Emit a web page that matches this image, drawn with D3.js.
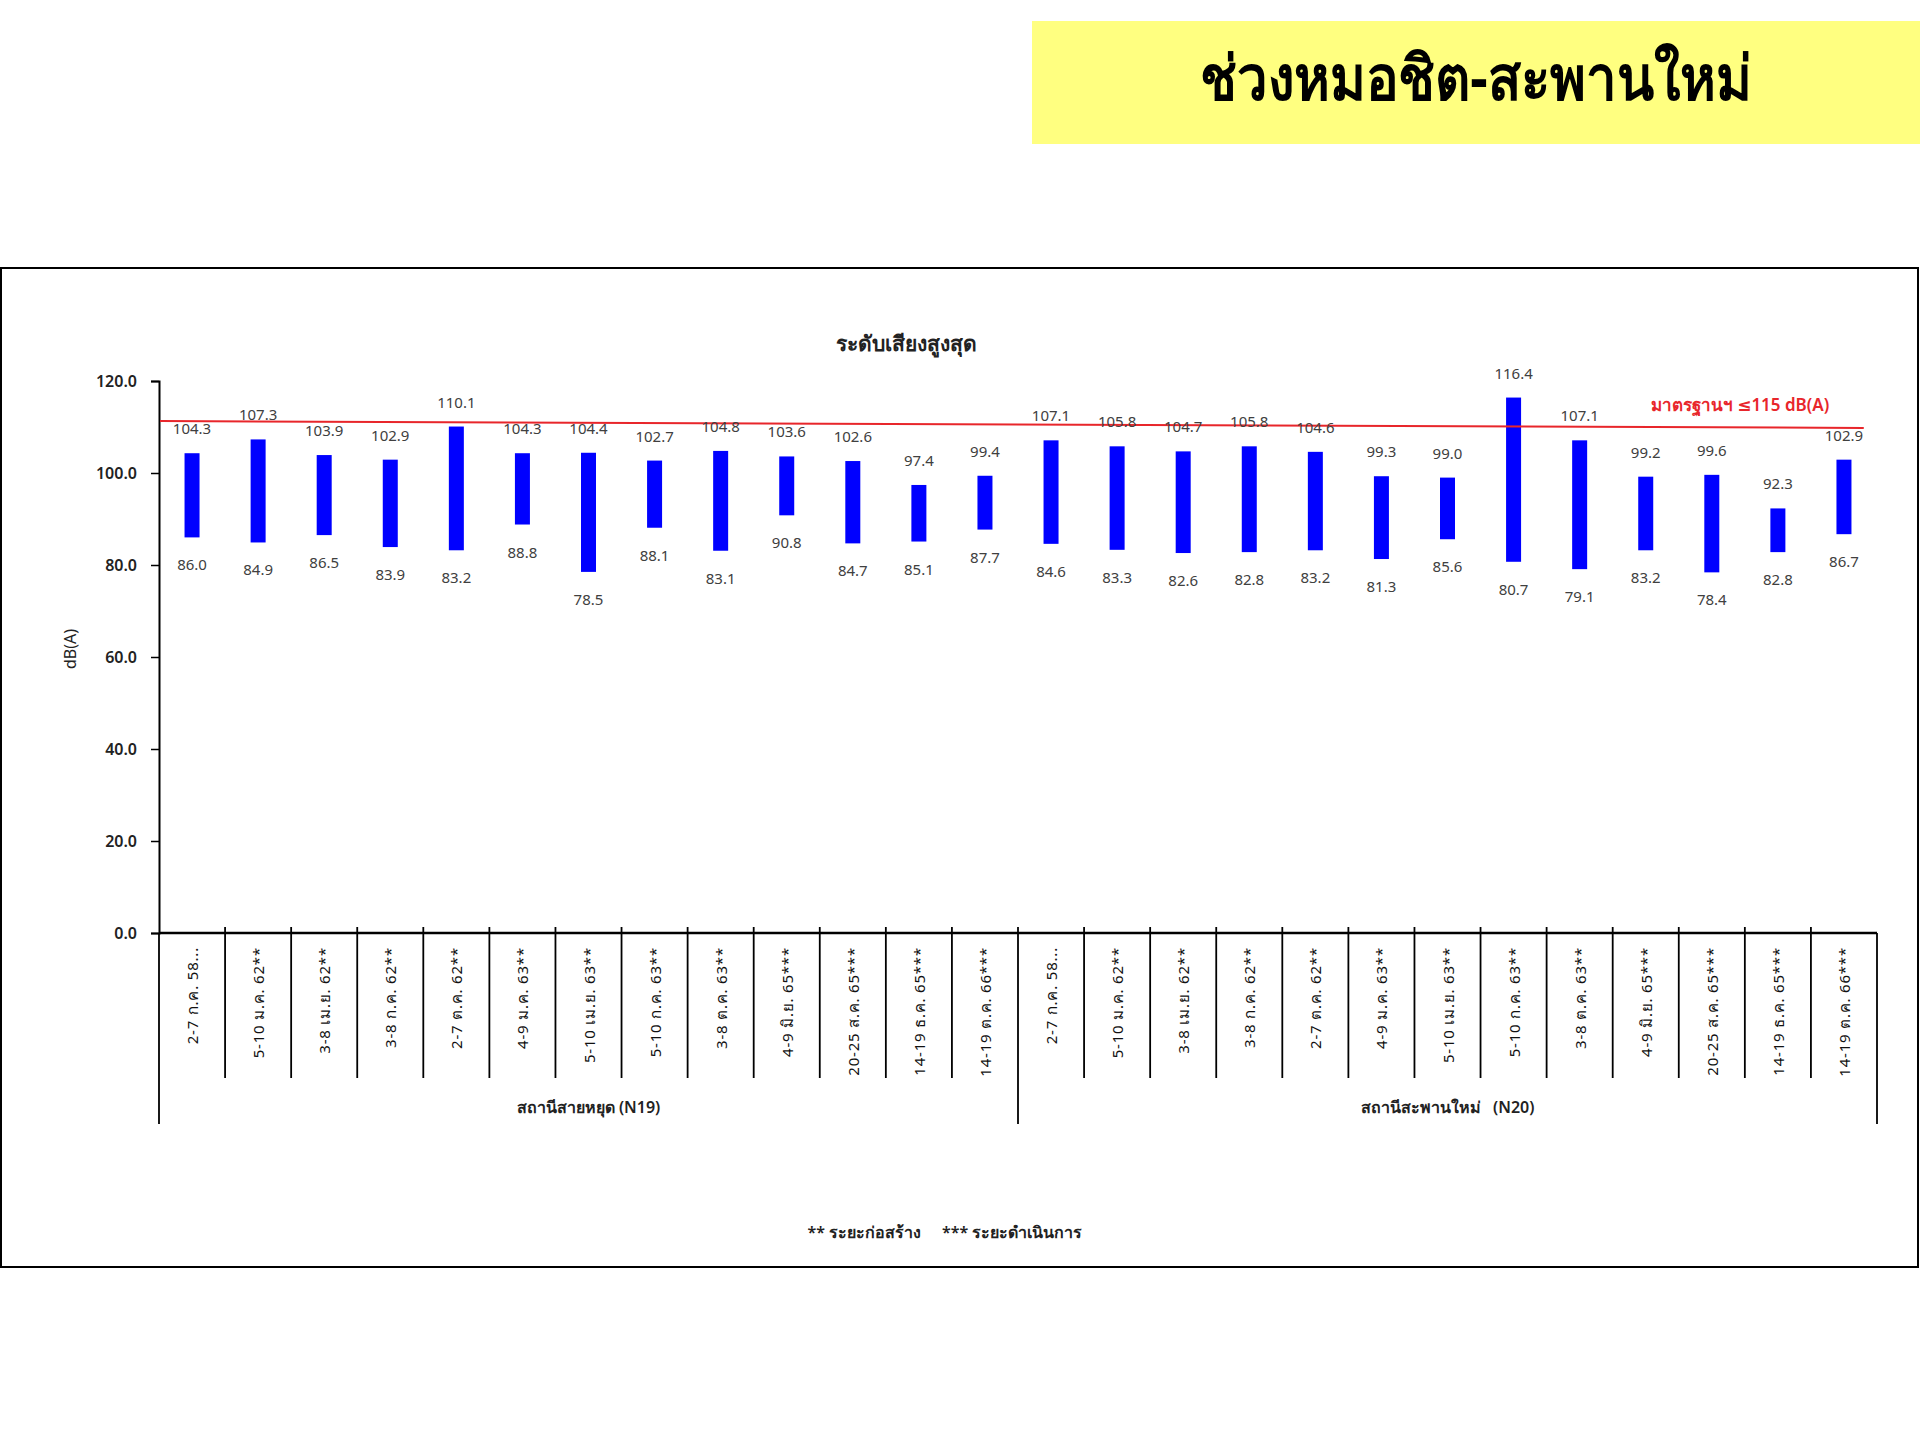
<!DOCTYPE html>
<html>
<head>
<meta charset="utf-8">
<script src="https://cdn.jsdelivr.net/npm/d3@7"></script>
<style>
  html, body { margin: 0; padding: 0; background: #fff; }
  svg { display: block; }
  text { font-family: "Noto Sans", "DejaVu Sans", sans-serif; }
</style>
</head>
<body>
<svg id="chart" width="1920" height="1440"></svg>
<script>
// ---- data ----
const pageTitle = "ช่วงหมอชิต-สะพานใหม่";
const chartTitle = "ระดับเสียงสูงสุด";
const yAxisTitle = "dB(A)";
const yTicks = [0, 20, 40, 60, 80, 100, 120];
const periods = ["2-7 ก.ค. 58...", "5-10 ม.ค. 62**", "3-8 เม.ย. 62**", "3-8 ก.ค. 62**", "2-7 ต.ค. 62**",
  "4-9 ม.ค. 63**", "5-10 เม.ย. 63**", "5-10 ก.ค. 63**", "3-8 ต.ค. 63**", "4-9 มิ.ย. 65***",
  "20-25 ส.ค. 65***", "14-19 ธ.ค. 65***", "14-19 ต.ค. 66***"];
const stations = ["สถานีสายหยุด (N19)", "สถานีสะพานใหม่   (N20)"];
const maxN19 = [104.3, 107.3, 103.9, 102.9, 110.1, 104.3, 104.4, 102.7, 104.8, 103.6, 102.6, 97.4, 99.4];
const minN19 = [86.0, 84.9, 86.5, 83.9, 83.2, 88.8, 78.5, 88.1, 83.1, 90.8, 84.7, 85.1, 87.7];
const maxN20 = [107.1, 105.8, 104.7, 105.8, 104.6, 99.3, 99.0, 116.4, 107.1, 99.2, 99.6, 92.3, 102.9];
const minN20 = [84.6, 83.3, 82.6, 82.8, 83.2, 81.3, 85.6, 80.7, 79.1, 83.2, 78.4, 82.8, 86.7];
const standardLine = [111.3, 109.8]; // drawn red reference line (start, end)
const standardLabel = "มาตรฐานฯ ≤115 dB(A)";
const footnote = "** ระยะก่อสร้าง     *** ระยะดำเนินการ";

// ---- build rows ----
const rows = [];
[[maxN19, minN19], [maxN20, minN20]].forEach(([mx, mn], s) => {
  periods.forEach((p, i) => rows.push({ key: s + "|" + i, station: s, period: p, max: mx[i], min: mn[i] }));
});

const svg = d3.select("#chart");
const fontMain = '"Noto Sans", "DejaVu Sans", sans-serif';

// Page title banner
svg.append("rect").attr("x", 1032).attr("y", 21).attr("width", 888).attr("height", 123).attr("fill", "#FFFF80");
svg.append("text").attr("x", 1476).attr("y", 100).attr("text-anchor", "middle")
  .attr("font-size", 62).attr("font-weight", "bold").attr("fill", "#000")
  .attr("textLength", 552).attr("lengthAdjust", "spacingAndGlyphs").text(pageTitle);

// Chart frame
svg.append("rect").attr("x", 1).attr("y", 268).attr("width", 1917).attr("height", 999)
  .attr("fill", "none").attr("stroke", "#000").attr("stroke-width", 2);

// Chart title
svg.append("text").attr("x", 906).attr("y", 351).attr("text-anchor", "middle")
  .attr("font-size", 21).attr("font-weight", "bold").attr("fill", "#222").text(chartTitle);

// scales
const x0 = 159, x1 = 1877, yBase = 933, yTop = 381;
const x = d3.scaleBand().domain(rows.map(d => d.key)).range([x0, x1]).paddingInner(0).paddingOuter(0);
const y = d3.scaleLinear().domain([0, 120]).range([yBase, yTop]);
const barW = 15;

// y axis
const yAxis = d3.axisLeft(y).tickValues(yTicks).tickFormat(d3.format(".1f")).tickSize(8).tickPadding(14);
const gy = svg.append("g").attr("transform", `translate(${x0},0)`).call(yAxis);
gy.select(".domain").attr("stroke", "#000").attr("stroke-width", 2);
gy.selectAll(".tick line").attr("stroke", "#000").attr("stroke-width", 1.5);
gy.selectAll(".tick text").attr("font-size", 16).attr("font-weight", "600").attr("fill", "#222")
  .attr("font-family", fontMain);

// y axis title
svg.append("text").attr("transform", `translate(76,649) rotate(-90)`).attr("text-anchor", "middle")
  .attr("font-size", 16).attr("fill", "#222").text(yAxisTitle);

// x axis line
svg.append("line").attr("x1", x0).attr("x2", x1).attr("y1", yBase).attr("y2", yBase)
  .attr("stroke", "#000").attr("stroke-width", 2.5);

// category separators
const sepShort = 1078, sepLong = 1124;
rows.forEach((d, i) => {
  if (i === 0) return;
  const xx = x(d.key);
  const long = (i % periods.length === 0);
  svg.append("line").attr("x1", xx).attr("x2", xx).attr("y1", yBase - 6).attr("y2", long ? sepLong : sepShort)
    .attr("stroke", "#000").attr("stroke-width", 1.8);
});
// outer group edges
[x0, x1].forEach(xx => {
  svg.append("line").attr("x1", xx).attr("x2", xx).attr("y1", yBase).attr("y2", sepLong)
    .attr("stroke", "#000").attr("stroke-width", 1.8);
});

// category labels (rotated)
svg.append("g").selectAll("text").data(rows).join("text")
  .attr("transform", d => `translate(${x(d.key) + x.bandwidth() / 2 + 6},${yBase + 14}) rotate(-90)`)
  .attr("text-anchor", "end")
  .attr("font-size", 15).attr("fill", "#111").attr("letter-spacing", 0.8)
  .text(d => d.period);

// station labels
stations.forEach((s, si) => {
  const keys = rows.filter(r => r.station === si).map(r => r.key);
  const cx = (x(keys[0]) + x(keys[keys.length - 1]) + x.bandwidth()) / 2;
  svg.append("text").attr("x", cx).attr("y", 1113).attr("text-anchor", "middle")
    .attr("font-size", 16).attr("font-weight", "600").attr("fill", "#222")
    .style("white-space", "pre").text(s);
});

// bars (floating min-max)
svg.append("g").selectAll("rect").data(rows).join("rect")
  .attr("x", d => x(d.key) + x.bandwidth() / 2 - barW / 2)
  .attr("y", d => y(d.max))
  .attr("width", barW)
  .attr("height", d => y(d.min) - y(d.max))
  .attr("fill", "#0000FF");

// red standard line
const lastKey = rows[rows.length - 1].key;
const lineX = [x0 + 1, x(lastKey) + x.bandwidth() * 0.8];
svg.append("line")
  .attr("x1", lineX[0]).attr("y1", y(standardLine[0]))
  .attr("x2", lineX[1]).attr("y2", y(standardLine[1]))
  .attr("stroke", "#E8262B").attr("stroke-width", 2);
svg.append("text").attr("x", 1740).attr("y", 411).attr("text-anchor", "middle")
  .attr("font-size", 17).attr("font-weight", "600").attr("fill", "#E8262B").text(standardLabel);

// value labels
const lblG = svg.append("g").attr("font-size", 15).attr("fill", "#404040").attr("text-anchor", "middle");
lblG.selectAll("text.max").data(rows).join("text").attr("class", "max")
  .attr("x", d => x(d.key) + x.bandwidth() / 2)
  .attr("y", d => y(d.max) - 19)
  .text(d => d.max.toFixed(1));
lblG.selectAll("text.min").data(rows).join("text").attr("class", "min")
  .attr("x", d => x(d.key) + x.bandwidth() / 2)
  .attr("y", d => y(d.min) + 33)
  .text(d => d.min.toFixed(1));

// footnote
svg.append("text").attr("x", 945).attr("y", 1238).attr("text-anchor", "middle")
  .attr("font-size", 16).attr("font-weight", "600").attr("fill", "#222")
  .style("white-space", "pre").text(footnote);
</script>
</body>
</html>
